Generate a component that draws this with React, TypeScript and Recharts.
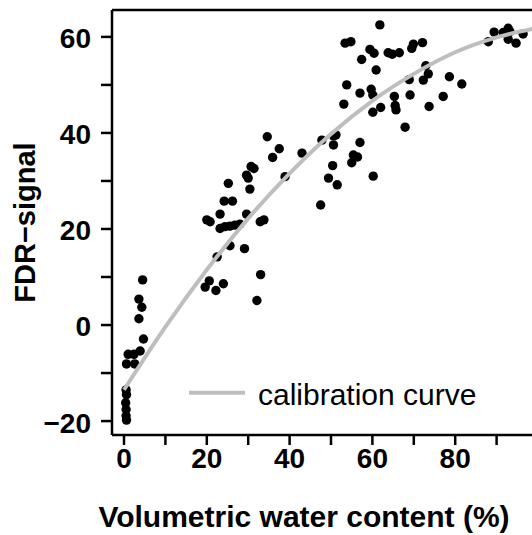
import { ScatterChart, Scatter, XAxis, YAxis, ReferenceLine, Legend } from "recharts";

// measured FDR signal vs volumetric water content
const samples = [
  { x: 0.5, y: -13.5 }, { x: 0.6, y: -14.5 }, { x: 0.4, y: -16.2 }, { x: 0.5, y: -17.6 },
  { x: 0.5, y: -18.9 }, { x: 0.6, y: -19.8 },
  { x: 0.6, y: -8.1 }, { x: 2.6, y: -8.1 }, { x: 1.0, y: -6.1 }, { x: 2.4, y: -6.1 },
  { x: 3.9, y: -5.4 }, { x: 4.7, y: -2.9 }, { x: 3.6, y: 1.3 }, { x: 4.3, y: 3.7 },
  { x: 3.6, y: 5.4 }, { x: 4.5, y: 9.4 },
  { x: 19.6, y: 7.9 }, { x: 20.6, y: 9.2 }, { x: 22.2, y: 7.2 }, { x: 24.0, y: 8.6 },
  { x: 22.5, y: 14.2 }, { x: 25.6, y: 16.5 }, { x: 29.1, y: 15.9 }, { x: 33.0, y: 10.5 },
  { x: 32.1, y: 5.1 },
  { x: 20.0, y: 21.9 }, { x: 20.8, y: 21.5 }, { x: 23.2, y: 20.1 }, { x: 24.4, y: 20.5 },
  { x: 25.6, y: 20.6 }, { x: 26.8, y: 20.8 }, { x: 28.0, y: 21.0 }, { x: 23.2, y: 23.1 },
  { x: 29.6, y: 23.1 }, { x: 32.9, y: 21.5 }, { x: 33.8, y: 21.9 },
  { x: 24.2, y: 25.8 }, { x: 26.2, y: 25.8 }, { x: 25.2, y: 29.5 }, { x: 30.4, y: 28.3 },
  { x: 29.6, y: 31.2 }, { x: 30.0, y: 30.6 }, { x: 30.7, y: 33.0 }, { x: 31.4, y: 32.6 },
  { x: 38.9, y: 30.9 },
  { x: 34.6, y: 39.2 }, { x: 37.5, y: 36.7 }, { x: 35.9, y: 34.9 }, { x: 43.0, y: 35.8 },
  { x: 47.5, y: 25.0 }, { x: 49.4, y: 30.6 }, { x: 51.5, y: 29.2 }, { x: 50.4, y: 33.2 },
  { x: 55.0, y: 33.8 }, { x: 55.4, y: 35.4 }, { x: 56.4, y: 35.0 }, { x: 60.2, y: 31.0 },
  { x: 47.8, y: 38.5 }, { x: 50.6, y: 39.4 }, { x: 51.2, y: 39.6 }, { x: 50.6, y: 37.5 },
  { x: 57.0, y: 38.0 },
  { x: 53.1, y: 46.0 }, { x: 53.8, y: 50.0 }, { x: 57.0, y: 48.3 }, { x: 59.7, y: 49.1 },
  { x: 60.1, y: 47.9 }, { x: 60.1, y: 44.3 }, { x: 62.0, y: 45.3 }, { x: 65.3, y: 47.6 },
  { x: 65.5, y: 45.7 }, { x: 65.7, y: 44.8 }, { x: 67.9, y: 41.2 }, { x: 69.1, y: 47.9 },
  { x: 68.9, y: 51.1 },
  { x: 60.9, y: 53.1 }, { x: 57.4, y: 55.3 }, { x: 53.4, y: 58.7 }, { x: 54.8, y: 59.0 },
  { x: 59.4, y: 57.4 }, { x: 60.4, y: 56.6 }, { x: 61.8, y: 62.5 }, { x: 63.8, y: 56.7 },
  { x: 64.8, y: 56.4 }, { x: 66.5, y: 56.7 }, { x: 69.5, y: 57.6 }, { x: 69.9, y: 58.5 },
  { x: 72.1, y: 58.8 },
  { x: 72.9, y: 54.0 }, { x: 73.5, y: 52.3 }, { x: 72.3, y: 51.0 }, { x: 78.6, y: 51.7 },
  { x: 81.6, y: 50.2 }, { x: 77.1, y: 47.6 }, { x: 73.7, y: 45.5 },
  { x: 88.0, y: 59.0 }, { x: 89.4, y: 61.0 }, { x: 91.6, y: 60.9 }, { x: 92.8, y: 61.8 },
  { x: 93.2, y: 61.1 }, { x: 92.8, y: 59.5 }, { x: 94.7, y: 58.7 }, { x: 96.4, y: 60.6 },
];

// calibration curve
const curveX = [0, 10, 20, 30, 40, 50, 60, 70, 80, 90, 100];
const curveY = [-13.5, -0.4, 11.5, 22.2, 31.6, 39.8, 46.7, 52.3, 56.8, 59.9, 61.9];
const calibration = curveX.map((x, i) => ({ x, y: curveY[i] }));

const xTicks = [0, 10, 20, 30, 40, 50, 60, 70, 80, 90];
const yTicks = [-20, -10, 0, 10, 20, 30, 40, 50, 60];
const xDomain = [-2.9, 100];
const yDomain = [-22.9, 65.6];

const FONT = '"Liberation Sans", Arial, sans-serif';
const GREY = "#bebebe";

const Dot = (props: any) => <circle cx={props.cx} cy={props.cy} r={4.7} fill="#000" />;

const XTick = ({ x, y, payload }: any) =>
  payload.value % 20 === 0 ? (
    <text x={x} y={y} dy="0.71em" textAnchor="middle" fontFamily={FONT} fontSize={28} fontWeight="bold" fill="#000">
      {payload.value}
    </text>
  ) : null;

const YTick = ({ x, y, payload }: any) =>
  payload.value % 20 === 0 ? (
    <text x={x} y={y + 1.5} dy="0.355em" textAnchor="end" fontFamily={FONT} fontSize={28} fontWeight="bold" fill="#000">
      {payload.value < 0 ? `\u2212${Math.abs(payload.value)}` : payload.value}
    </text>
  ) : null;

const YTitle = () => (
  <text x={27} y={214.5} transform="rotate(-90, 27, 214.5)" textAnchor="middle" fontFamily={FONT} fontSize={29} fontWeight="bold" fill="#000">
    FDR{"\u2212"}signal
  </text>
);

const XTitle = () => (
  <text x={296} y={519} textAnchor="middle" fontFamily={FONT} fontSize={30} fontWeight="bold" fill="#000">
    Volumetric water content (%)
  </text>
);

const LegendBox = () => (
  <svg width={320} height={45}>
    <line x1={9} x2={65} y1={22.7} y2={22.7} stroke={GREY} strokeWidth={4} />
    <text x={78} y={35} fontFamily={FONT} fontSize={30} fill="#000">calibration curve</text>
  </svg>
);

export default function App() {
  return (
    <div
      style={{
        position: "fixed",
        left: 0,
        top: 0,
        width: 532,
        height: 535,
        padding: "8px 0 0 8px",
        boxSizing: "border-box",
        overflow: "hidden",
        background: "#fff",
      }}
    >
      <ScatterChart width={540} height={527} margin={{ top: 2, right: 10, bottom: 0, left: 0 }}>
        <XAxis
          type="number"
          dataKey="x"
          domain={xDomain}
          ticks={xTicks}
          allowDataOverflow
          height={100}
          tickSize={10}
          tickMargin={3}
          tick={<XTick />}
          axisLine={{ stroke: "#000", strokeWidth: 2.5 }}
          tickLine={{ stroke: "#000", strokeWidth: 2.5 }}
          label={<XTitle />}
        />
        <YAxis
          type="number"
          dataKey="y"
          domain={yDomain}
          ticks={yTicks}
          allowDataOverflow
          width={104}
          tickSize={11}
          tickMargin={10}
          tick={<YTick />}
          axisLine={{ stroke: "#000", strokeWidth: 2.5 }}
          tickLine={{ stroke: "#000", strokeWidth: 2.5 }}
          label={<YTitle />}
        />
        <ReferenceLine y={yDomain[1]} stroke="#000" strokeWidth={2.5} />
        <Scatter data={samples} shape={<Dot />} isAnimationActive={false} />
        <Scatter
          data={calibration}
          line={{ stroke: GREY, strokeWidth: 4 }}
          lineType="joint"
          lineJointType="monotoneX"
          shape={() => <g />}
          isAnimationActive={false}
        />
        <Legend
          layout="vertical"
          align="center"
          verticalAlign="middle"
          content={<LegendBox />}
          wrapperStyle={{ left: 172, top: 362, width: 320 }}
        />
      </ScatterChart>
    </div>
  );
}
